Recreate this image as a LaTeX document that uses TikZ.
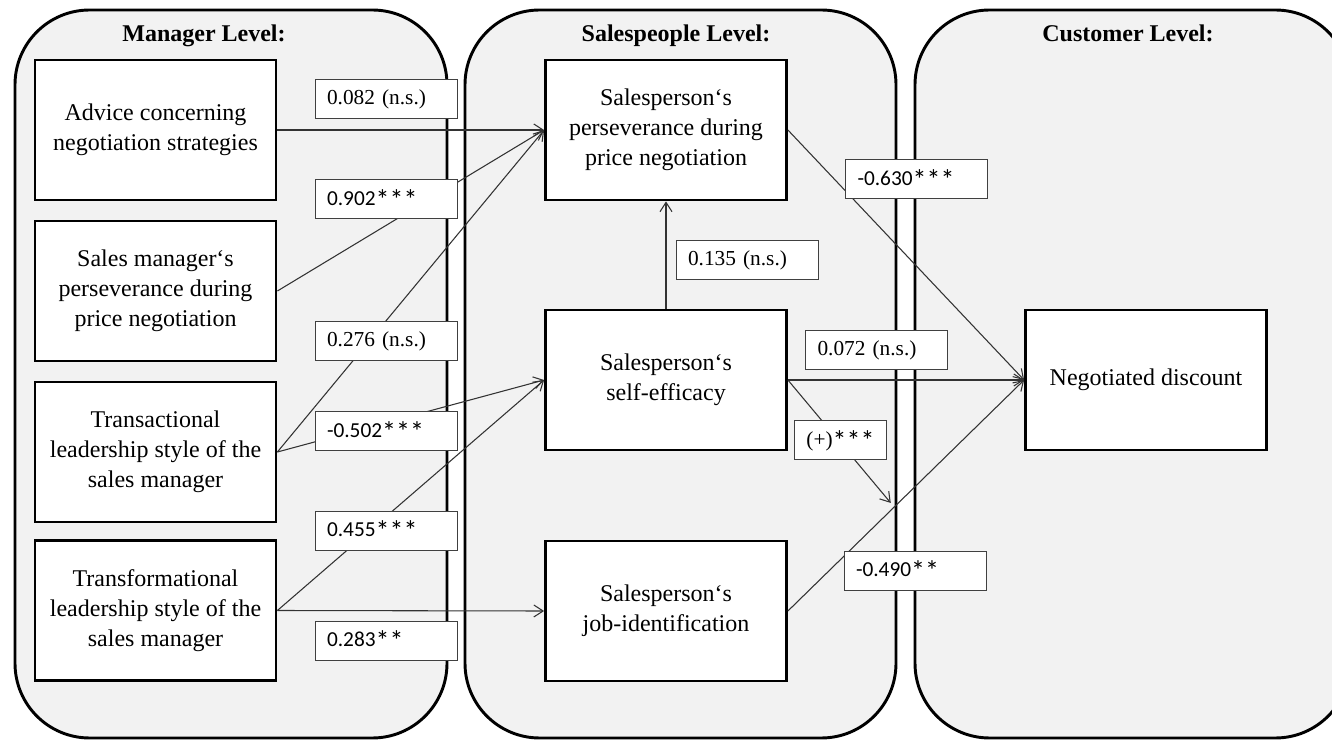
\documentclass[tikz,border=0pt]{standalone}
\usepackage{fontspec}
\setmainfont{Liberation Serif}
\newfontfamily\calfont{Carlito}
\usetikzlibrary{arrows.meta,calc}

\newcommand\sig[1]{\raisebox{-0.2em}{\fontsize{21}{21}\selectfont #1}}

\tikzset{
	level/.style={draw=black, line width=2.2pt, fill=black!5, rounded corners=56pt},
	head/.style={anchor=base, font=\fontsize{18}{22.5}\selectfont\bfseries},
	var/.style={draw=black, line width=2.1pt, fill=white, minimum width=180.75pt, minimum height=105pt, align=center, font=\fontsize{18}{22.5}\selectfont},
	coef/.style={draw=black!75, line width=0.75pt, fill=white, minimum height=29.25pt, text width=88.5pt, inner xsep=9pt, inner ysep=0pt, align=left, font=\fontsize{16}{19}\selectfont},
	link/.style={-{Straight Barb[length=7pt,width=9pt]}, draw=black!80, line width=0.8pt}
}

\begin{document}
\begin{tikzpicture}[x=0.75pt, y=-0.75pt]
		\useasboundingbox (0, 0) rectangle (1332, 741);

		% levels
		\draw[level] (15, 10) rectangle (447, 738);
		\draw[level] (465, 10) rectangle (896, 738);
		\draw[level] (915, 10) rectangle (1350, 738);
		\node[head] (HM) at (204, 42) {Manager Level:};
		\node[head] (HS) at (676, 42) {Salespeople Level:};
		\node[head] (HC) at (1128, 42) {Customer Level:};

		% variables
		\node[var] (ADV) at (155.5, 130) {Advice concerning\\negotiation strategies};
		\node[var] (SMP) at (155.5, 291) {Sales manager‘s\\perseverance during\\price negotiation};
		\node[var] (TRA) at (155.5, 452) {Transactional\\leadership style of the\\sales manager};
		\node[var] (TRF) at (155.5, 610.5) {Transformational\\leadership style of the\\sales manager};
		\node[var] (SPP) at (666, 130) {Salesperson‘s\\perseverance during\\price negotiation};
		\node[var] (SSE) at (666, 380) {Salesperson‘s\\self-efficacy};
		\node[var] (SJI) at (666, 611) {Salesperson‘s\\job-identification};
		\node[var] (ND) at (1146, 380) {Negotiated discount};

		\coordinate (MOD) at ($(SJI.east)!0.45!(ND.west)$);

		\path (ADV) edge[link] (SPP.west)
		(SMP.east) edge[link] (SPP.west)
		(TRA.east) edge[link] (SPP.west)
		(TRA.east) edge[link] (SSE.west)
		(TRF.east) edge[link] (SSE.west)
		(TRF.east) edge[link] (SJI.west)
		(SSE) edge[link] (SPP)
		(SPP.east) edge[link] (ND.west)
		(SSE.east) edge[link] (ND.west)
		(SJI.east) edge[link] (ND.west)
		(SSE.east) edge[link, shorten >=4pt] (MOD);

		% coefficients
		\node[coef] (C1) at (386, 99.5) {0.082 (n.s.)};
		\node[coef] (C2) at (386, 199.5) {\calfont 0.902\sig{***}};
		\node[coef] (C3) at (386, 341.5) {0.276 (n.s.)};
		\node[coef] (C4) at (386, 431.5) {\calfont -0.502\sig{***}};
		\node[coef] (C5) at (386, 530.5) {\calfont 0.455\sig{***}};
		\node[coef] (C6) at (386, 640.5) {\calfont 0.283\sig{**}};
		\node[coef] (C7) at (747, 260) {0.135 (n.s.)};
		\node[coef] (C8) at (876.5, 350) {0.072 (n.s.)};
		\node[coef, text width=, minimum width=68.25pt, align=center] (C9) at (840.5, 440.5) {(+){\calfont\sig{***}}};
		\node[coef] (C10) at (916.5, 179.5) {\calfont -0.630\sig{***}};
		\node[coef] (C11) at (915, 570.5) {\calfont -0.490\sig{**}};

	\end{tikzpicture}
\end{document}
